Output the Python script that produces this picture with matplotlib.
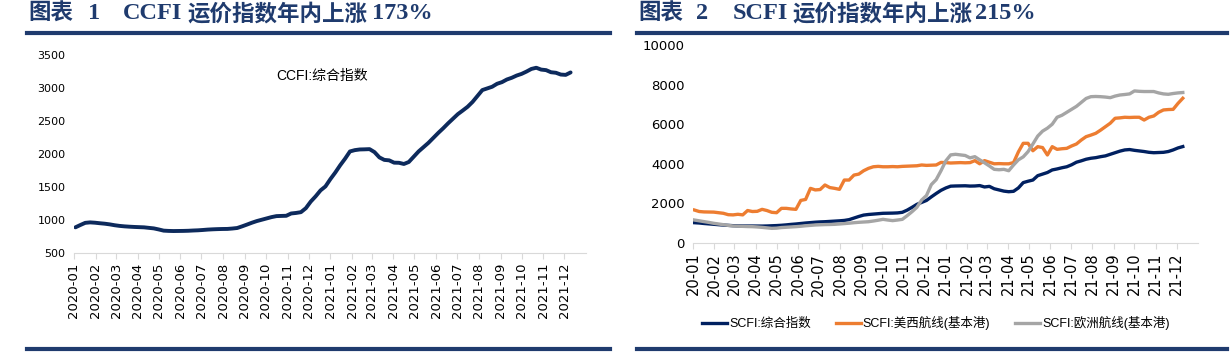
import pandas as pd
import matplotlib.pyplot as plt
import matplotlib.dates as mdates
from matplotlib.lines import Line2D

# weekly readings, 2020-01-03 .. 2021-12-10
dates = pd.date_range("2020-01-03", periods=102, freq="7D")
months = pd.date_range("2020-01-01", "2021-12-01", freq="MS")

ccfi = [890, 925, 958, 965, 960, 952, 945, 935, 922, 912, 905, 900, 896, 893, 890, 882,
        874, 858, 840, 836, 834, 835, 836, 838, 842, 845, 850, 856, 860, 863, 865, 866,
        872, 880, 905, 932, 960, 985, 1005, 1025, 1045, 1060, 1063, 1065, 1100, 1108, 1120,
        1180, 1280, 1360, 1450, 1510, 1620, 1720, 1830, 1930, 2040, 2060, 2070, 2072, 2075,
        2030, 1950, 1912, 1905, 1870, 1868, 1850, 1880, 1960, 2040, 2105, 2170, 2245, 2320,
        2390, 2465, 2535, 2605, 2660, 2717, 2790, 2880, 2970, 2995, 3020, 3065, 3090, 3130,
        3156, 3190, 3215, 3250, 3290, 3308, 3280, 3272, 3240, 3232, 3205, 3200, 3237]

scfi_comp = [1025, 1010, 985, 965, 945, 925, 905, 890, 875, 865, 860, 858, 858, 856, 855, 860,
             870, 880, 895, 915, 940, 960, 985, 1010, 1030, 1050, 1065, 1075, 1090, 1105, 1120,
             1140, 1180, 1260, 1340, 1410, 1440, 1460, 1480, 1500, 1505, 1510, 1520, 1550, 1660,
             1800, 1950, 2050, 2150, 2330, 2500, 2660, 2780, 2870, 2880, 2885, 2890, 2875, 2880,
             2900, 2830, 2860, 2740, 2680, 2620, 2590, 2610, 2780, 3050, 3120, 3180, 3400, 3480,
             3560, 3690, 3740, 3800, 3850, 3950, 4080, 4150, 4230, 4280, 4310, 4360, 4400, 4480,
             4560, 4640, 4700, 4720, 4680, 4650, 4620, 4580, 4560, 4570, 4580, 4620, 4700, 4800,
             4870]

scfi_usw = [1665, 1590, 1570, 1565, 1560, 1530, 1500, 1430, 1420, 1450, 1420, 1640, 1590, 1600,
            1700, 1640, 1550, 1530, 1750, 1750, 1720, 1700, 2150, 2200, 2760, 2680, 2700, 2930,
            2800, 2760, 2710, 3180, 3180, 3430, 3480, 3650, 3770, 3850, 3870, 3850, 3850, 3860,
            3850, 3870, 3880, 3890, 3900, 3940, 3920, 3930, 3940, 4070, 4060, 4040, 4050, 4060,
            4050, 4060, 4160, 4000, 4160, 4080, 4000, 4010, 4000, 4000, 4060, 4600, 5035, 5035,
            4660, 4865, 4820, 4445, 4865, 4730, 4760, 4780, 4900, 5000, 5200, 5370, 5450, 5540,
            5700, 5875, 6050, 6300, 6320, 6350, 6340, 6350, 6350, 6210, 6350, 6415, 6600, 6720,
            6740, 6750, 7050, 7310]

scfi_eur = [1160, 1120, 1080, 1040, 995, 960, 925, 890, 860, 850, 840, 830, 825, 810, 790, 765,
            740, 750, 780, 795, 810, 825, 845, 870, 890, 910, 920, 930, 935, 943, 960, 980, 1000,
            1025, 1045, 1060, 1075, 1110, 1150, 1195, 1160, 1130, 1160, 1195, 1380, 1580, 1800,
            2170, 2400, 2950, 3200, 3650, 4150, 4450, 4480, 4450, 4420, 4300, 4360, 4200, 4050,
            3890, 3720, 3700, 3720, 3650, 3940, 4200, 4350, 4615, 5000, 5400, 5650, 5800, 6000,
            6350, 6450, 6600, 6750, 6900, 7100, 7300, 7390, 7400, 7390, 7370, 7340, 7420, 7475,
            7500, 7530, 7680, 7660, 7650, 7650, 7650, 7580, 7530, 7510, 7550, 7580, 7600]

labels = ["SCFI:综合指数", "SCFI:美西航线(基本港)", "SCFI:欧洲航线(基本港)"]
colors = ["#002060", "#ED7D31", "#A5A5A5"]

navy = "#1f3b6e"
cjk_font = ["Liberation Sans", "Noto Sans CJK SC"]
latin_title = "Liberation Serif"
cjk_title = "Noto Sans CJK SC"

W, H = 1231, 360
fig = plt.figure(figsize=(W / 100, H / 100), dpi=100)

# title pieces: (x pixel, text, latin?)
title_parts = [
    [(28, "图表", False), (88, "1", True), (123, "CCFI", True),
     (187, "运价指数年内上涨", False), (372, "173%", True)],
    [(638, "图表", False), (696, "2", True), (733, "SCFI", True),
     (792, "运价指数年内上涨", False), (975, "215%", True)],
]
for parts in title_parts:
    for x, t, latin in parts:
        fig.text(x / W, 1 - 13.5 / H, t, family=latin_title if latin else cjk_title,
                 weight="bold", fontsize=17.5 if latin else 16.2, color=navy,
                 va="center", ha="left")

for x0, x1 in [(27, 610), (637, 1227)]:
    for y in (32.5, 348.5):
        fig.add_artist(Line2D([x0 / W, x1 / W], [1 - y / H, 1 - y / H],
                              color=navy, lw=3, transform=fig.transFigure))


def style(ax, fmt, size):
    for s in ["top", "right", "left"]:
        ax.spines[s].set_visible(False)
    ax.spines["bottom"].set_color("#D9D9D9")
    ax.set_xticks(months)
    ax.xaxis.set_major_formatter(mdates.DateFormatter(fmt))
    ax.set_xlim(pd.Timestamp("2020-01-01"), pd.Timestamp("2022-01-01"))
    ax.tick_params(axis="x", colors="#D9D9D9", length=4, labelcolor="black",
                   labelrotation=90, pad=3, labelsize=size)
    ax.tick_params(axis="y", length=0, pad=6)


# left: CCFI
ax1 = fig.add_axes([74 / W, 0.297, 512 / W, 0.55])
ax1.plot(dates, ccfi, color="#0D2A5C", lw=2.8, solid_capstyle="round")
ax1.set_ylim(500, 3500)
ax1.set_yticks(range(500, 3501, 500))
style(ax1, "%Y-%m", 9.5)
ax1.tick_params(axis="y", labelsize=8)
ax1.text(0.395, 0.895, "CCFI:综合指数", transform=ax1.transAxes, family=cjk_font,
         fontsize=10, va="center", ha="left")

# right: SCFI
ax2 = fig.add_axes([693 / W, 0.325, 505 / W, 0.55])
handles = []
for vals, lab, c in zip([scfi_comp, scfi_usw, scfi_eur], labels, colors):
    h, = ax2.plot(dates, vals, color=c, lw=2.4, label=lab)
    handles.append(h)
ax2.set_ylim(0, 10000)
ax2.set_yticks(range(0, 10001, 2000))
style(ax2, "%y-%m", 10.5)
ax2.tick_params(axis="y", labelsize=9.5)

fig.legend(handles, labels, loc="center", ncol=3,
           bbox_to_anchor=(936 / W, 1 - 323 / H), frameon=False,
           prop={"family": cjk_font, "size": 9}, handlelength=2.0,
           handletextpad=0.15, columnspacing=2.0)

fig.savefig("out.png", dpi=100)
